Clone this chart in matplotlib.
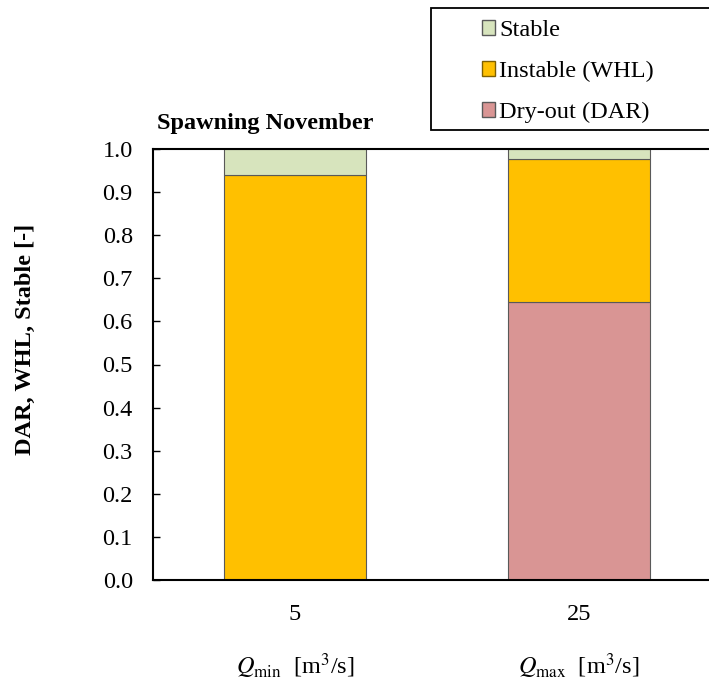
import numpy as np
import matplotlib
matplotlib.use('Agg')
import matplotlib.pyplot as plt
from matplotlib.patches import Patch, Rectangle

# --- data ---
tick_labels = ['5', '25']
q_labels = [r'$Q_{\mathrm{min}}$  [m$^3$/s]', r'$Q_{\mathrm{max}}$  [m$^3$/s]']
dar = [0.0, 0.645]
whl = [0.940, 0.332]
stable = [0.060, 0.023]

plt.rcParams['font.family'] = 'Liberation Serif'
plt.rcParams['mathtext.fontset'] = 'stix'

col_stable = '#D7E4BD'
col_whl = '#FFC000'
col_dar = '#D99594'
edge = '#595959'
fs = 17.5

fig = plt.figure(figsize=(7.09, 6.84), dpi=100)
# axes extends slightly past the right figure edge, like the original
ax = fig.add_axes([153 / 709, 1 - 580 / 684, 568 / 709, 431 / 684])

x = np.arange(len(tick_labels))
w = 0.5
dar = np.array(dar)
whl = np.array(whl)
stable = np.array(stable)
ax.bar(x, dar, w, color=col_dar, edgecolor=edge, linewidth=0.8)
ax.bar(x, whl, w, bottom=dar, color=col_whl, edgecolor=edge, linewidth=0.8)
ax.bar(x, stable, w, bottom=dar + whl, color=col_stable, edgecolor=edge, linewidth=0.8)

ax.set_xlim(-0.5, 1.5)
ax.set_ylim(0, 1.0)
yt = np.arange(0, 1.01, 0.1)
ax.set_yticks(yt)
ax.set_yticklabels([f'{v:.1f}' for v in yt])
ax.tick_params(axis='y', direction='in', length=5, width=1, labelsize=fs, pad=14.5)
ax.set_xticks(x)
ax.set_xticklabels(tick_labels)
ax.tick_params(axis='x', length=0, labelsize=fs, pad=17)
for s in ['left', 'bottom', 'top']:
    ax.spines[s].set_linewidth(1.5)
ax.spines['right'].set_visible(False)

for xi, lab in zip(x, q_labels):
    ax.text(xi, -0.2, lab, ha='center', va='center', fontsize=fs,
            transform=ax.get_xaxis_transform())

# y label sits a bit above the axes centre in the original
fig.text(25 / 709, 1 - 339 / 684, 'DAR, WHL, Stable [-]', fontsize=fs,
         fontweight='bold', rotation=90, ha='center', va='center')
fig.text(157 / 709, 1 - 129 / 684, 'Spawning November', fontsize=fs,
         fontweight='bold', ha='left', va='baseline')

# legend frame drawn separately (box is wider than its entries)
fig.patches.append(Rectangle((431 / 709, 1 - 130 / 684), 300 / 709, 122 / 684,
                             transform=fig.transFigure, facecolor='white',
                             edgecolor='black', linewidth=1.3, zorder=3))
handles = [Patch(facecolor=col_stable, edgecolor=edge),
           Patch(facecolor=col_whl, edgecolor='#7f6000'),
           Patch(facecolor=col_dar, edgecolor=edge)]
leg = fig.legend(handles, ['Stable', 'Instable (WHL)', 'Dry-out (DAR)'],
                 loc='upper left', bbox_to_anchor=(482 / 709, 1 - 20 / 684),
                 fontsize=fs, frameon=False,
                 handlelength=0.55, handleheight=0.55, handletextpad=0.15,
                 borderpad=0, labelspacing=0.82, borderaxespad=0)
leg.set_zorder(4)

fig.savefig('out.png', dpi=100)
